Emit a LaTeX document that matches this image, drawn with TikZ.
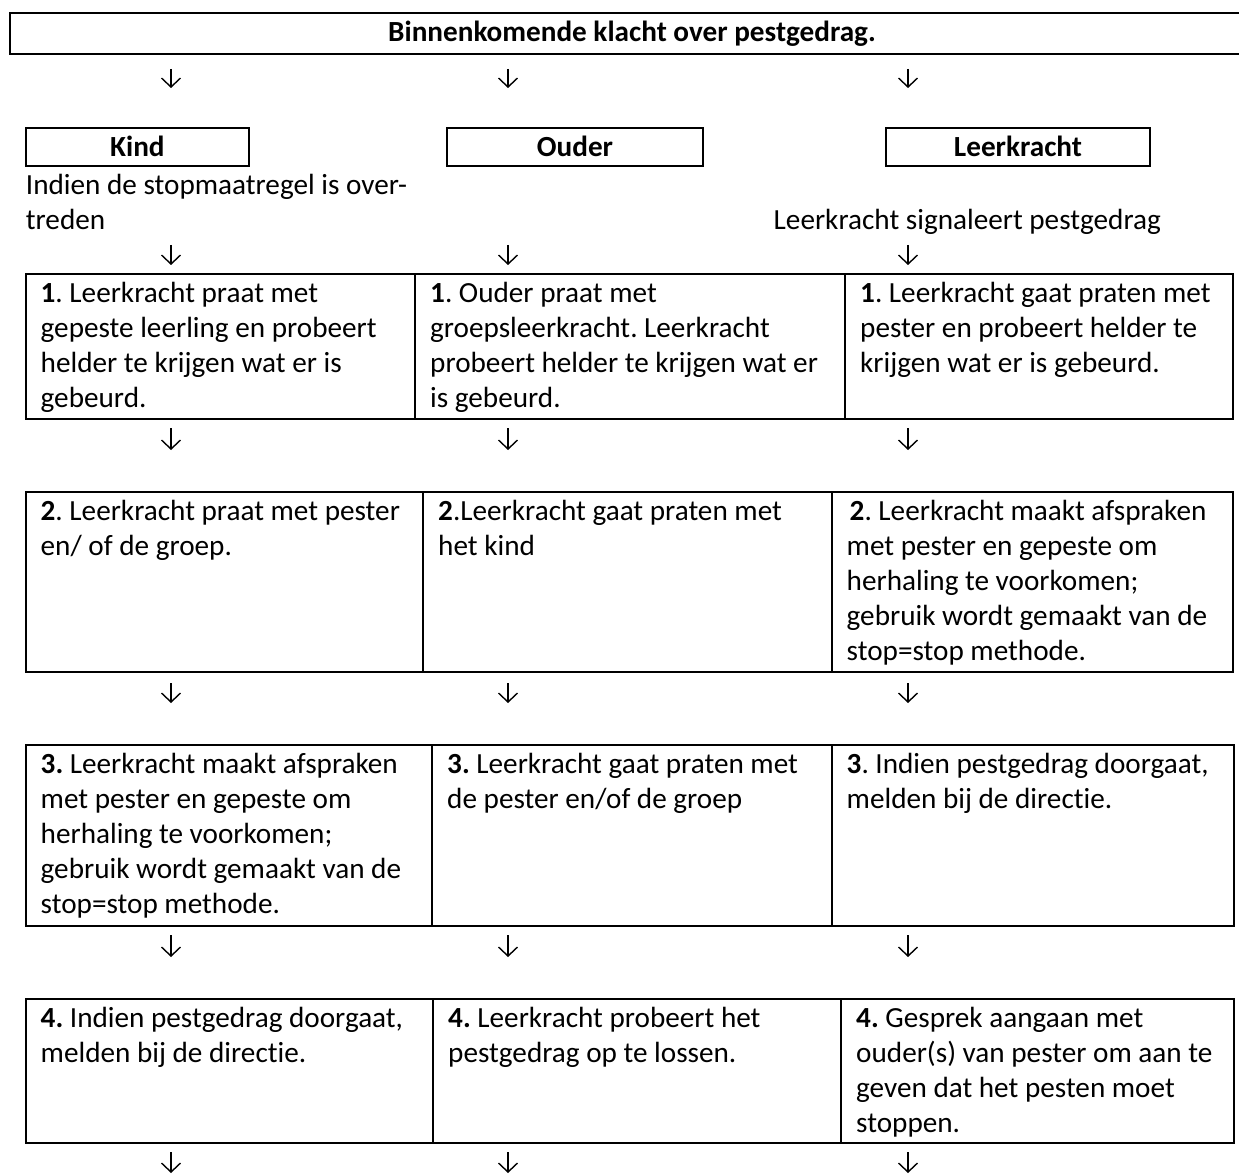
\documentclass[tikz,border=0pt]{standalone}
\usepackage{fontspec}
\setmainfont{Carlito}[Ligatures={NoCommon}]
\usetikzlibrary{arrows.meta}
\frenchspacing
\newcommand{\txtfont}{\fontsize{29.2}{35}\selectfont\frenchspacing}
\tikzset{
  cellbox/.style={draw, line width=2pt, inner sep=0pt, outer sep=0pt, anchor=north west},
  celltext/.style={anchor=base west, inner sep=0pt, text width=430pt, align=flush left, font=\txtfont},
  lbltext/.style={anchor=base, inner sep=0pt, font=\txtfont\bfseries},
  arr/.style={line width=1.4pt, -{Straight Barb[length=9pt,width=19pt]}},
}
\begin{document}
\begin{tikzpicture}[x=1pt,y=-1pt]
\useasboundingbox (0,0) rectangle (1239,1174);
\clip (0,0) rectangle (1239,1174);
\fill[white] (0,0) rectangle (1239,1174);

% title
\node[cellbox, minimum width=1245pt, minimum height=41.6pt] (title) at (9.5,12.7) {};
\node[lbltext] (titletxt) at (632,42) {Binnenkomende klacht over pestgedrag.};

% three labels
\node[cellbox, minimum width=223.3pt, minimum height=38pt] (kind) at (25.7,127.7) {};
\node[lbltext] (kindtxt) at (137.4,156.5) {Kind};
\node[cellbox, minimum width=256pt, minimum height=38pt] (ouder) at (447,127.7) {};
\node[lbltext] (oudertxt) at (575,156.5) {Ouder};
\node[cellbox, minimum width=264pt, minimum height=38pt] (leer) at (886,127.7) {};
\node[lbltext] (leertxt) at (1018,156.5) {Leerkracht};

\node[celltext] (kindnote) at (25.7,194.5) {Indien de stopmaatregel is over-\\treden};
\node[anchor=base east, inner sep=0pt, font=\txtfont] (leernote) at (1161,229.5) {Leerkracht signaleert pestgedrag};

% row 1
\node[cellbox, minimum width=389.3pt, minimum height=145pt] (r1c1) at (25.7,274) {};
\node[cellbox, minimum width=430pt, minimum height=145pt] (r1c2) at (415,274) {};
\node[cellbox, minimum width=388pt, minimum height=145pt] (r1c3) at (845,274) {};
\node[celltext] (t1c1) at (40.5,302.5) {\textbf{1}. Leerkracht praat met\\gepeste leerling en probeert\\helder te krijgen wat er is\\gebeurd.};
\node[celltext] (t1c2) at (430,302.5) {\textbf{1}. Ouder praat met\\groepsleerkracht. Leerkracht\\probeert helder te krijgen wat er\\is gebeurd.};
\node[celltext] (t1c3) at (860,302.5) {\textbf{1}. Leerkracht gaat praten met\\pester en probeert helder te\\krijgen wat er is gebeurd.};

% row 2
\node[cellbox, minimum width=397.3pt, minimum height=180pt] (r2c1) at (25.7,492) {};
\node[cellbox, minimum width=408.5pt, minimum height=180pt] (r2c2) at (423,492) {};
\node[cellbox, minimum width=401.5pt, minimum height=180pt] (r2c3) at (831.5,492) {};
\node[celltext] (t2c1) at (40.5,520.5) {\textbf{2}. Leerkracht praat met pester\\en/ of de groep.};
\node[celltext] (t2c2) at (438,520.5) {\textbf{2}.Leerkracht gaat praten met\\het kind};
\node[celltext] (t2c3) at (846.5,520.5) {\hspace*{3pt}\textbf{2}. Leerkracht maakt afspraken\\met pester en gepeste om\\herhaling te voorkomen;\\gebruik wordt gemaakt van de\\stop=stop methode.};

% row 3
\node[cellbox, minimum width=406.3pt, minimum height=181pt] (r3c1) at (25.7,745) {};
\node[cellbox, minimum width=399.5pt, minimum height=181pt] (r3c2) at (432,745) {};
\node[cellbox, minimum width=402.5pt, minimum height=181pt] (r3c3) at (831.5,745) {};
\node[celltext] (t3c1) at (40.5,773.5) {\textbf{3.} Leerkracht maakt afspraken\\met pester en gepeste om\\herhaling te voorkomen;\\gebruik wordt gemaakt van de\\stop=stop methode.};
\node[celltext] (t3c2) at (447,773.5) {\textbf{3.} Leerkracht gaat praten met\\de pester en/of de groep};
\node[celltext] (t3c3) at (846.5,773.5) {\textbf{3}. Indien pestgedrag doorgaat,\\melden bij de directie.};

% row 4
\node[cellbox, minimum width=407.3pt, minimum height=144pt] (r4c1) at (25.7,999) {};
\node[cellbox, minimum width=408pt, minimum height=144pt] (r4c2) at (433,999) {};
\node[cellbox, minimum width=393pt, minimum height=144pt] (r4c3) at (841,999) {};
\node[celltext] (t4c1) at (40.5,1027.5) {\textbf{4.} Indien pestgedrag doorgaat,\\melden bij de directie.};
\node[celltext] (t4c2) at (448,1027.5) {\textbf{4.} Leerkracht probeert het\\pestgedrag op te lossen.};
\node[celltext] (t4c3) at (856,1027.5) {\textbf{4.} Gesprek aangaan met\\ouder(s) van pester om aan te\\geven dat het pesten moet\\stoppen.};

% arrows
\foreach \r/\yt/\yb in {0/69/88, 1/245/265, 2/428/450, 3/683/703, 4/935/957, 5/1152/1173} {
  \foreach \c/\x in {k/171, o/508, l/908} {
    \coordinate (s\r\c) at (\x,\yt);
    \coordinate (e\r\c) at (\x,\yb);
    \draw[arr] (s\r\c) -- (e\r\c);
  }
}
\end{tikzpicture}
\end{document}
